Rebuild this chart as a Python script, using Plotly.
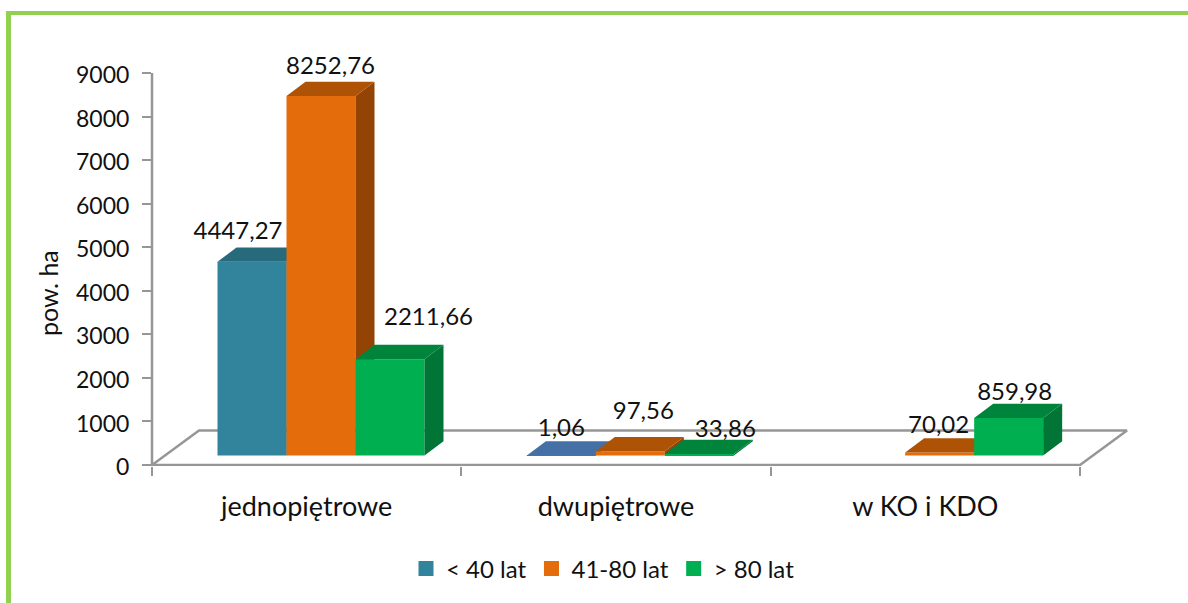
import plotly.graph_objects as go

categories = ["jednopiętrowe", "dwupiętrowe", "w KO i KDO"]
series_names = ["< 40 lat", "41-80 lat", "> 80 lat"]
young = [4447.27, 1.06, None]
middle = [8252.76, 97.56, 70.02]
old = [2211.66, 33.86, 859.98]
y_ticks = [0, 1000, 2000, 3000, 4000, 5000, 6000, 7000, 8000, 9000]

W, H = 1188, 603
L, T, B = 152, 50, 137
PX_X = 309.33            # px per category
PX_Y = 393 / 9023        # px per value unit
FONT = "Lato"
GRAY = "#969696"
TXT = "#111111"


def dx(px):
    return px / PX_X


def dy(px):
    return px / PX_Y


X_RANGE = [-0.5, -0.5 + dx(W - L)]
Y_RANGE = [-23, 9000 + dy(23)]
BASE = dy(9.5)
BAR_W = dx(69)
GROUP_START = dx(217.5 - L) - 0.5
DEPTH_X, DEPTH_Y = dx(19), dy(14.3)
FLOOR_X, FLOOR_Y = dx(47), dy(34.5)

styles = [
    dict(front="#31849B", top=["#266A7C", "#4470A5", "#266A7C"], side="#1F5A6A"),
    dict(front="#E46C0A", top=["#AE5305"] * 3, side="#934404"),
    dict(front="#00B050", top=["#00843C"] * 3, side="#007536"),
]
# label offsets in px from the bar's front-top centre, per series and category
label_shift = [
    [(-14, 29), (0, 25), None],
    [(9.5, 28.5), (13, 38.5), (-1, 25.5)],
    [(38.5, 40.5), (26, 23), (6, 24.5)],
]

fig = go.Figure()

# floor drawn on the base axes
fx0, fx1 = -0.5, 2.5
fig.add_trace(go.Scatter(
    x=[fx0, fx0 + FLOOR_X, fx1 + FLOOR_X, fx1, fx0],
    y=[0, FLOOR_Y, FLOOR_Y, 0, 0],
    mode="lines", line=dict(color=GRAY, width=2.5),
    showlegend=False, hoverinfo="skip",
))

# legend entries
for name, st in zip(series_names, styles):
    fig.add_trace(go.Scatter(
        x=[None], y=[None], name=name, mode="markers",
        marker=dict(symbol="square", size=15, color=st["front"], line=dict(width=0)),
        hoverinfo="skip",
    ))

all_values = [young, middle, old]
lx, ly, lt = [], [], []
for s, (name, vals, st) in enumerate(zip(series_names, all_values, styles)):
    axid = str(s + 2)
    xa, ya = "x" + axid, "y" + axid
    xs = [c + GROUP_START + BAR_W * (s + 0.5) for c in range(3)]
    fig.add_trace(go.Bar(
        x=xs, y=vals, base=BASE, width=BAR_W, name=name, showlegend=False,
        marker=dict(color=st["front"], line=dict(width=0)),
        xaxis=xa, yaxis=ya, hoverinfo="skip",
    ))
    for c, v in enumerate(vals):
        if v is None:
            continue
        xl, xr = xs[c] - BAR_W / 2, xs[c] + BAR_W / 2
        top = BASE + v
        fig.add_trace(go.Scatter(
            x=[xr, xr + DEPTH_X, xr + DEPTH_X, xr, xr],
            y=[top, top + DEPTH_Y, BASE + DEPTH_Y, BASE, top],
            mode="lines", fill="toself", fillcolor=st["side"],
            line=dict(width=0), xaxis=xa, yaxis=ya,
            showlegend=False, hoverinfo="skip",
        ))
        fig.add_trace(go.Scatter(
            x=[xl, xl + DEPTH_X, xr + DEPTH_X, xr, xl],
            y=[top, top + DEPTH_Y, top + DEPTH_Y, top, top],
            mode="lines", fill="toself", fillcolor=st["top"][c],
            line=dict(width=0), xaxis=xa, yaxis=ya,
            showlegend=False, hoverinfo="skip",
        ))
        sx, sy = label_shift[s][c]
        lx.append(xs[c] + dx(sx))
        ly.append(top + dy(sy))
        lt.append(f"{v:.2f}".replace(".", ","))

fig.add_trace(go.Scatter(
    x=lx, y=ly, text=lt, mode="text", textposition="middle center",
    textfont=dict(family=FONT, size=24, color=TXT),
    xaxis="x4", yaxis="y4", showlegend=False, hoverinfo="skip", cliponaxis=False,
))

overlay_x = dict(range=X_RANGE, visible=False, overlaying="x", fixedrange=True)
overlay_y = dict(range=Y_RANGE, visible=False, overlaying="y", fixedrange=True)


def px_x(p):
    return (p - L) / (W - L)


def px_y(p):
    return (H - B - p) / (H - B - T)


green = "#92D050"
fig.update_layout(
    width=W, height=H,
    margin=dict(l=L, r=0, t=T, b=B, pad=0),
    paper_bgcolor="white", plot_bgcolor="rgba(0,0,0,0)",
    barmode="overlay",
    font=dict(family=FONT, size=22, color=TXT),
    xaxis=dict(
        range=X_RANGE, tickmode="array", tickvals=[0, 1, 2], ticktext=categories,
        ticks="", showgrid=False, zeroline=False, showline=False,
        tickfont=dict(family=FONT, size=27, color=TXT), ticklabelstandoff=22,
        minor=dict(tickmode="array", tickvals=[-0.5, 0.5, 1.5, 2.5], ticks="outside",
                   ticklen=9, tickwidth=2, tickcolor=GRAY, showgrid=False),
        fixedrange=True,
    ),
    yaxis=dict(
        range=Y_RANGE, tickmode="array", tickvals=y_ticks, ticks="outside",
        ticklen=9, tickwidth=2, tickcolor=GRAY, showline=False,
        showgrid=False, zeroline=False, ticklabelstandoff=8, ticklabelshift=2,
        tickfont=dict(family=FONT, size=23, color=TXT), tickformat="d",
        fixedrange=True,
    ),
    xaxis2=overlay_x, yaxis2=overlay_y,
    xaxis3=overlay_x, yaxis3=overlay_y,
    xaxis4=overlay_x, yaxis4=overlay_y,
    legend=dict(
        orientation="h", xanchor="left", yanchor="middle",
        x=px_x(406), y=px_y(569), font=dict(family=FONT, size=24, color=TXT),
        itemwidth=30, itemsizing="trace", bgcolor="rgba(0,0,0,0)", traceorder="normal",
    ),
    annotations=[
        dict(text="pow. ha", xref="paper", yref="paper", x=px_x(48), y=px_y(293),
             xanchor="center", yanchor="middle", textangle=-90, showarrow=False,
             font=dict(family=FONT, size=25, color=TXT)),
    ],
    shapes=[
        dict(type="line", xref="paper", yref="y", x0=0, x1=0, y0=-23, y1=9000,
             line=dict(color=GRAY, width=2.5)),
        dict(type="rect", xref="paper", yref="paper", x0=px_x(6), x1=px_x(11),
             y0=px_y(11), y1=px_y(H + 5), fillcolor=green, line=dict(width=0)),
        dict(type="rect", xref="paper", yref="paper", x0=px_x(6), x1=px_x(W + 5),
             y0=px_y(11), y1=px_y(15), fillcolor=green, line=dict(width=0)),
    ],
)

fig.write_html("out.html", config=dict(displayModeBar=False),
               post_script="document.body.style.margin='0';document.body.style.overflow='hidden';")
